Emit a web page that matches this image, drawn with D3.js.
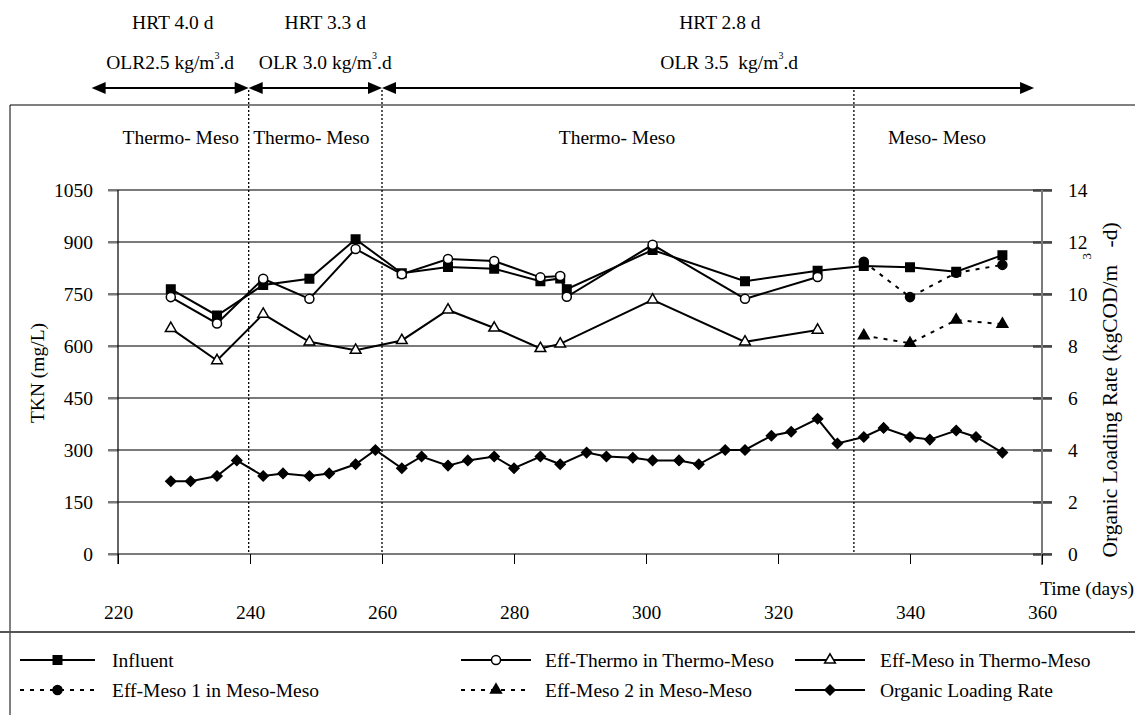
<!DOCTYPE html>
<html>
<head>
<meta charset="utf-8">
<script src="https://cdn.jsdelivr.net/npm/d3@7"></script>
<style>
  html, body { margin: 0; padding: 0; background: #fff; }
</style>
</head>
<body>
<svg id="chart" width="1135" height="715"></svg>
<script>
// ---- data ----
const influentDays = [228, 235, 242, 249, 256, 263, 270, 277, 284, 287, 288, 301, 315, 326, 333, 340, 347, 354];
const influentTKN  = [764, 688, 776, 794, 908, 810, 828, 823, 787, 795, 764, 877, 787, 817, 831, 827, 814, 862];

const effThermoDays = [228, 235, 242, 249, 256, 263, 270, 277, 284, 287, 288, 301, 315, 326];
const effThermoTKN  = [741, 665, 794, 736, 880, 807, 851, 845, 798, 802, 742, 892, 736, 799];

const effMesoTMDays = [228, 235, 242, 249, 256, 263, 270, 277, 284, 287, 301, 315, 326];
const effMesoTMTKN  = [651, 558, 692, 612, 588, 616, 704, 652, 593, 606, 733, 612, 646];

const effMeso1Days = [333, 340, 347, 354];
const effMeso1TKN  = [843, 741, 811, 834];

const effMeso2Days = [333, 340, 347, 354];
const effMeso2TKN  = [630, 608, 675, 663];

const olrDays = [228, 231, 235, 238, 242, 245, 249, 252, 256, 259, 263, 266, 270, 273, 277,
                 280, 284, 287, 291, 294, 298, 301, 305, 308, 312, 315, 319, 322, 326, 329,
                 333, 336, 340, 343, 347, 350, 354];
const olrValues = [2.8, 2.8, 3.0, 3.6, 3.0, 3.1, 3.0, 3.1, 3.45, 4.0, 3.3, 3.75, 3.4, 3.6, 3.75,
                   3.3, 3.75, 3.45, 3.9, 3.75, 3.7, 3.6, 3.6, 3.45, 4.0, 4.0, 4.55, 4.7, 5.2, 4.25,
                   4.5, 4.85, 4.5, 4.4, 4.75, 4.5, 3.9];

const leftTicks  = [0, 150, 300, 450, 600, 750, 900, 1050];
const rightTicks = [0, 2, 4, 6, 8, 10, 12, 14];
const dayTicks   = [220, 240, 260, 280, 300, 320, 340, 360];

// phase boundaries (days) and labels
const phaseBounds = [239.8, 260, 331.5];
const phaseLabels = [
  { at: 229.5, text: "Thermo- Meso" },
  { at: 249.3, text: "Thermo- Meso" },
  { at: 295.6, text: "Thermo- Meso" },
  { at: 344.1, text: "Meso- Meso" }
];
// operating periods: arrow span and label centres, in days
const operatingPeriods = [
  { from: 216, to: 239.8, hrtAt: 228.3, olrAt: 227.9, hrt: "HRT 4.0 d", olr: "OLR2.5 kg/m", tail: ".d" },
  { from: 239.8, to: 260, hrtAt: 251.4, olrAt: 251.4, hrt: "HRT 3.3 d", olr: "OLR 3.0 kg/m", tail: ".d" },
  { from: 260, to: 358.8, hrtAt: 311.2, olrAt: 312.6, hrt: "HRT 2.8 d", olr: "OLR 3.5\u00a0 kg/m", tail: ".d" }
];

// pick the first installed serif face (Times-like preferred)
function pickSerif() {
  const ctx = document.createElement("canvas").getContext("2d");
  const probe = "Thermo- Meso 1050 Organic Loading Rate";
  const w = f => { ctx.font = "40px " + f; return ctx.measureText(probe).width; };
  const candidates = ["Liberation Serif", "Times New Roman", "Tinos", "Nimbus Roman",
                      "FreeSerif", "Noto Serif", "DejaVu Serif", "Times"];
  for (const c of candidates) {
    const q = `"${c}"`;
    if (w(`${q}, monospace`) !== w("monospace") || w(`${q}, sans-serif`) !== w("sans-serif")) return q + ", serif";
  }
  return "serif";
}
const FONT = pickSerif();
const FS = 19.5;

// ---- layout ----
const svg = d3.select("#chart").attr("font-family", FONT);
svg.append("style").text(`text { font-family: ${FONT}; }`);
const x  = d3.scaleLinear().domain([220, 360]).range([118, 1042]);
const yL = d3.scaleLinear().domain([0, 1050]).range([554, 190]);
const yR = d3.scaleLinear().domain([0, 14]).range([554, 190]);

// outer frame and legend separator
svg.append("path")
  .attr("d", "M1135,105 H10 V715")
  .attr("fill", "none").attr("stroke", "#000").attr("stroke-width", 1);
svg.append("line")
  .attr("x1", 0).attr("x2", 1135).attr("y1", 632).attr("y2", 632)
  .attr("stroke", "#555").attr("stroke-width", 2);

// horizontal gridlines
svg.append("g").selectAll("line").data(leftTicks).join("line")
  .attr("x1", 108).attr("x2", 1052)
  .attr("y1", d => yL(d)).attr("y2", d => yL(d))
  .attr("stroke", "#7a7a7a").attr("stroke-width", 2);

// left axis
const leftAxis = svg.append("g").attr("transform", "translate(118,0)")
  .call(d3.axisLeft(yL).tickValues(leftTicks).tickSize(10).tickSizeOuter(0).tickPadding(15).tickFormat(d3.format("d")));
leftAxis.attr("font-family", FONT);
leftAxis.select(".domain").remove();
leftAxis.selectAll(".tick line").attr("stroke", "#7a7a7a").attr("stroke-width", 2);
leftAxis.selectAll("text").attr("font-size", FS).attr("fill", "#000");
svg.append("line").attr("x1", 118).attr("x2", 118).attr("y1", 190).attr("y2", 564)
  .attr("stroke", "#000").attr("stroke-width", 1.2);

// right axis
const rightAxis = svg.append("g").attr("transform", "translate(1042,0)")
  .call(d3.axisRight(yR).tickValues(rightTicks).tickSize(10).tickSizeOuter(0).tickPadding(16).tickFormat(d3.format("d")));
rightAxis.attr("font-family", FONT);
rightAxis.select(".domain").remove();
rightAxis.selectAll(".tick line").attr("x1", -9).attr("stroke", "#444").attr("stroke-width", 2.5);
rightAxis.selectAll("text").attr("font-size", FS).attr("fill", "#000");
svg.append("line").attr("x1", 1042).attr("x2", 1042).attr("y1", 190).attr("y2", 565)
  .attr("stroke", "#7a7a7a").attr("stroke-width", 2);

// bottom axis (ticks hang below the zero line)
const bottomAxis = svg.append("g").attr("transform", "translate(0,554)")
  .call(d3.axisBottom(x).tickValues(dayTicks).tickSize(10).tickSizeOuter(0).tickPadding(41).tickFormat(d3.format("d")));
bottomAxis.attr("font-family", FONT);
bottomAxis.select(".domain").remove();
bottomAxis.selectAll(".tick line").attr("stroke", "#000").attr("stroke-width", 1);
bottomAxis.selectAll("text").attr("font-size", FS).attr("fill", "#000");

// axis titles
svg.append("text")
  .attr("transform", "translate(44,373) rotate(-90)")
  .attr("text-anchor", "middle").attr("font-size", FS).text("TKN (mg/L)");

const rTitle = svg.append("text")
  .attr("transform", "translate(1117,390) rotate(-90)")
  .attr("text-anchor", "middle").attr("font-size", 21.5);
rTitle.append("tspan").text("Organic Loading Rate (kgCOD/m ");
rTitle.append("tspan").attr("font-size", 13).attr("dy", -26).text("3");
rTitle.append("tspan").attr("dy", 26).text(" -d)");

svg.append("text").attr("x", 1134).attr("y", 595)
  .attr("text-anchor", "end").attr("font-size", FS).text("Time (days)");

// phase boundary lines
svg.append("g").selectAll("line").data(phaseBounds).join("line")
  .attr("x1", d => x(d)).attr("x2", d => x(d))
  .attr("y1", 90).attr("y2", 554)
  .attr("stroke", "#000").attr("stroke-width", 1.3).attr("stroke-dasharray", "2,2");

// phase labels
svg.append("g").selectAll("text").data(phaseLabels).join("text")
  .attr("x", d => x(d.at)).attr("y", 144)
  .attr("text-anchor", "middle").attr("font-size", FS).text(d => d.text);

// operating period headers with double arrows
const hdr = svg.append("g");
operatingPeriods.forEach(p => {
  const x0 = x(p.from), x1 = x(p.to);
  hdr.append("text").attr("x", x(p.hrtAt)).attr("y", 29).attr("text-anchor", "middle")
    .attr("font-size", FS).text(p.hrt);
  const t = hdr.append("text").attr("x", x(p.olrAt)).attr("y", 69).attr("text-anchor", "middle").attr("font-size", FS);
  t.append("tspan").text(p.olr);
  t.append("tspan").attr("font-size", 10).attr("dy", -10).text("3");
  t.append("tspan").attr("dy", 10).text(p.tail);
  const ay = 88;
  hdr.append("line").attr("x1", x0 + 4).attr("x2", x1 - 4).attr("y1", ay).attr("y2", ay)
    .attr("stroke", "#000").attr("stroke-width", 2);
  hdr.append("path").attr("d", `M${x0},${ay} l14,-6 v12 Z`).attr("fill", "#000");
  hdr.append("path").attr("d", `M${x1},${ay} l-14,-6 v12 Z`).attr("fill", "#000");
});

// ---- series ----
const series = [
  { name: "Influent", days: influentDays, vals: influentTKN, y: yL, dash: null,
    sym: d3.symbolSquare, size: 72, rot: 0, fill: "#000" },
  { name: "Eff-Thermo in Thermo-Meso", days: effThermoDays, vals: effThermoTKN, y: yL, dash: null,
    sym: d3.symbolCircle, size: 64, rot: 0, fill: "#fff" },
  { name: "Eff-Meso in Thermo-Meso", days: effMesoTMDays, vals: effMesoTMTKN, y: yL, dash: null,
    sym: d3.symbolTriangle, size: 50, rot: 0, fill: "#fff" },
  { name: "Eff-Meso 1 in Meso-Meso", days: effMeso1Days, vals: effMeso1TKN, y: yL, dash: "4,6",
    sym: d3.symbolCircle, size: 64, rot: 0, fill: "#000" },
  { name: "Eff-Meso 2 in Meso-Meso", days: effMeso2Days, vals: effMeso2TKN, y: yL, dash: "4,6",
    sym: d3.symbolTriangle, size: 50, rot: 0, fill: "#000" },
  { name: "Organic Loading Rate", days: olrDays, vals: olrValues, y: yR, dash: null,
    sym: d3.symbolSquare, size: 50, rot: 45, fill: "#000" }
];

const plot = svg.append("g");
series.forEach(s => {
  const pts = s.days.map((d, i) => [d, s.vals[i]]);
  const line = d3.line().x(p => x(p[0])).y(p => s.y(p[1]));
  plot.append("path").attr("d", line(pts)).attr("fill", "none")
    .attr("stroke", "#000").attr("stroke-width", 2)
    .attr("stroke-dasharray", s.dash);
  plot.append("g").selectAll("path").data(pts).join("path")
    .attr("transform", p => `translate(${x(p[0])},${s.y(p[1])}) rotate(${s.rot})`)
    .attr("d", d3.symbol(s.sym, s.size))
    .attr("fill", s.fill).attr("stroke", "#000").attr("stroke-width", 1.5);
});

// ---- legend ----
const legendPos = [
  { x: 20, y: 660, len: 75, gap: 17 }, { x: 461, y: 660, len: 70, gap: 14 }, { x: 795, y: 660, len: 70, gap: 15 },
  { x: 20, y: 690, len: 75, gap: 17 }, { x: 461, y: 690, len: 70, gap: 14 }, { x: 795, y: 690, len: 70, gap: 15 }
];
const legend = svg.append("g");
series.forEach((s, i) => {
  const p = legendPos[i];
  legend.append("line").attr("x1", p.x).attr("x2", p.x + p.len).attr("y1", p.y).attr("y2", p.y)
    .attr("stroke", "#000").attr("stroke-width", 2).attr("stroke-dasharray", s.dash);
  legend.append("path").attr("transform", `translate(${p.x + p.len / 2},${p.y}) rotate(${s.rot})`)
    .attr("d", d3.symbol(s.sym, s.size)).attr("fill", s.fill)
    .attr("stroke", "#000").attr("stroke-width", 1.5);
  legend.append("text").attr("x", p.x + p.len + p.gap).attr("y", p.y + 6.5)
    .attr("font-size", FS).text(s.name);
});
</script>
</body>
</html>
